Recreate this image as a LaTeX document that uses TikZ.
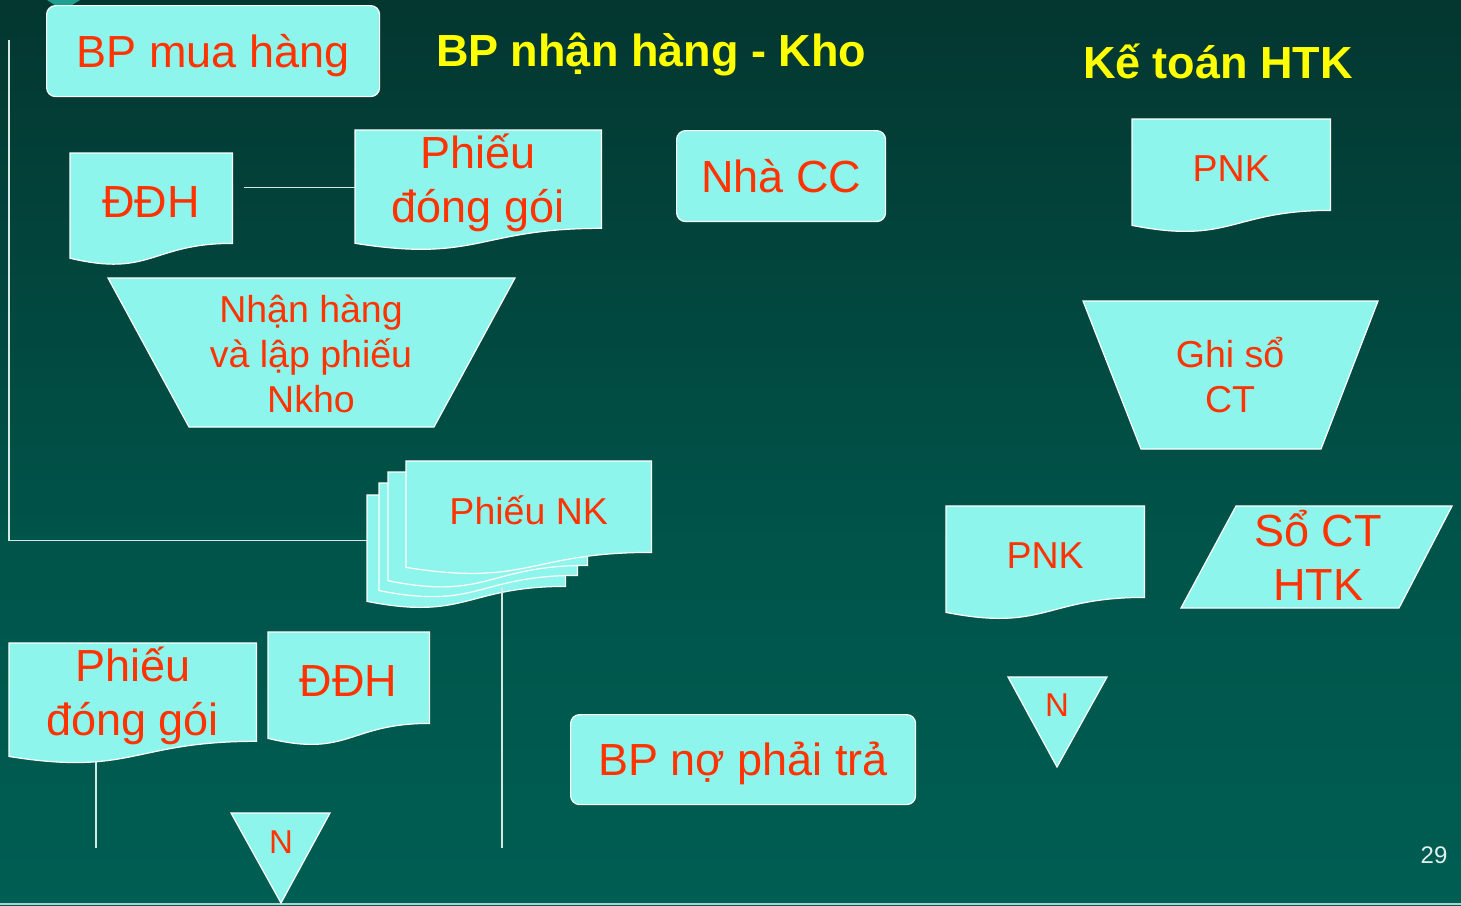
\documentclass[tikz,border=0pt]{standalone}
\usepackage{fontspec}
\setmainfont{Liberation Sans}
\usetikzlibrary{calc}
\definecolor{shapefill}{RGB}{142,245,236}
\definecolor{txtred}{RGB}{255,51,0}
\definecolor{ttlcol}{RGB}{255,255,0}
\definecolor{bgtop}{RGB}{6,30,26}
\definecolor{bgmid}{RGB}{0,84,74}
\definecolor{bgbot}{RGB}{0,106,94}
\definecolor{lncol}{RGB}{215,232,228}
\definecolor{logocol}{RGB}{30,160,144}
\definecolor{numcol}{RGB}{225,240,238}
\pgfdeclareverticalshading{bgshade}{100bp}{color(0bp)=(bgbot); color(45bp)=(bgmid); color(100bp)=(bgtop)}
\pgfdeclarelayer{bgl}\pgfdeclarelayer{lns}\pgfdeclarelayer{shapes}
\pgfsetlayers{bgl,lns,shapes,main}
\newcommand\fbig{\fontsize{45}{54}\selectfont}
\newcommand\fmed{\fontsize{37.5}{45}\selectfont}
\newcommand\fsml{\fontsize{33}{40}\selectfont}
% document shape round a named node (node is shifted 3.5pt down for its text): #1 name, #2 height
\newcommand\docw[2]{\path[shp] ([yshift=3.5pt]#1.north west) -- ([yshift=3.5pt]#1.north east) -- ([yshift=3.5pt]#1.south east)
  .. controls ([yshift=3.5pt]#1.south) and ([yshift=3.5pt-0.38*#2pt]#1.south) .. ([yshift=3.5pt-0.1646*#2pt]#1.south west) -- cycle;}
\begin{document}
\begin{tikzpicture}[x=1pt,y=-1pt,
  shp/.style={fill=shapefill, draw=white, line width=1.2pt},
  rbox/.style={shp, rounded corners=9pt, anchor=north west, inner sep=0, text=txtred, font=\fbig, text height=32.5pt, text depth=0pt},
  docn/.style={anchor=north west, inner sep=0, text=txtred, align=center, yshift=-3.5pt},
  lbl/.style={text=txtred, align=center, inner sep=0},
  conn/.style={draw=lncol, line width=1.3pt},
  ttl/.style={text=ttlcol, font=\fbig\bfseries, inner sep=0}]
\useasboundingbox (0,0) rectangle (1461,905);
\begin{pgfonlayer}{bgl}
\shade[shading=bgshade] (0,0) rectangle (1461,905);
\fill[logocol] (47,0) -- (80,0) -- (72,5) -- (55,5) -- cycle;
\draw[color=lncol!80!teal, line width=2pt] (0,904) -- (1461,904);
\end{pgfonlayer}

% titles
\node[rbox, minimum width=333pt, minimum height=91pt] (mua) at (46,5) {BP mua hàng};
\node[ttl] (tkho) at (651,54) {BP nhận hàng - Kho};
\node[ttl] (tkt) at (1218,61) {Kế toán HTK};

% documents
\node[docn, minimum width=162pt, minimum height=90pt, font=\fbig] (ddh1) at (70,153) {ĐĐH};
\node[docn, minimum width=246pt, minimum height=91pt, font=\fbig] (pdg1) at (355,130) {Phiếu\\đóng gói};
\node[docn, minimum width=198pt, minimum height=91pt, font=\fmed] (pnk1) at (1132,119) {PNK};
\node[docn, minimum width=198pt, minimum height=91pt, font=\fmed] (pnk2) at (946,506) {PNK};
\node[docn, minimum width=247pt, minimum height=92pt, font=\fbig] (pdg2) at (9,643) {Phiếu\\đóng gói};
\node[docn, minimum width=161pt, minimum height=91pt, font=\fbig] (ddh2) at (268,632) {ĐĐH};
\node[docn, minimum width=198pt, minimum height=91pt] (nk4) at (367,495) {};
\node[docn, minimum width=198pt, minimum height=92pt] (nk3) at (379,483) {};
\node[docn, minimum width=199pt, minimum height=93pt] (nk2) at (388,472) {};
\node[docn, minimum width=245pt, minimum height=91pt, font=\fmed] (nk1) at (406,461) {Phiếu NK};

\begin{pgfonlayer}{shapes}
\docw{ddh1}{90}
\docw{pdg1}{91}
\docw{pnk1}{91}
\docw{pnk2}{91}
\docw{pdg2}{92}
\docw{ddh2}{91}
\docw{nk4}{91}
\docw{nk3}{92}
\docw{nk2}{93}
\docw{nk1}{91}
% manual operations
\path[shp] (108,278) -- (515,278) -- (434,427) -- (189,427) -- cycle;
\path[shp] (1083,301) -- (1378,301) -- (1321,449) -- (1141,449) -- cycle;
% data
\path[shp] (1236,506) -- (1452,506) -- (1399,608) -- (1181,608) -- cycle;
% files
\path[shp] (231,813) -- (330,813) -- (281,903) -- cycle;
\path[shp] (1008,677) -- (1107,677) -- (1057,767) -- cycle;
\end{pgfonlayer}

\node[lbl, font=\fmed] (nhan) at (311,354) {Nhận hàng\\và lập phiếu\\Nkho};
\node[lbl, font=\fmed] (ghi) at (1230,375) {Ghi sổ\\CT};
\node[lbl, font=\fbig] (so) at (1318,555) {Sổ CT\\HTK};
\node[lbl, font=\fsml] (n1) at (281,842) {N};
\node[lbl, font=\fsml] (n2) at (1057,705) {N};

\node[rbox, minimum width=209pt, minimum height=91pt] (ncc) at (676,130) {Nhà CC};
\node[rbox, minimum width=345pt, minimum height=90pt] (bpn) at (570,714) {BP nợ phải trả};

\node[text=numcol, font=\fontsize{24}{28}\selectfont, inner sep=0] (pg) at (1434,855) {29};

% connectors
\coordinate (lt) at (9,40);
\draw[conn] (lt) |- ([yshift=3.5pt]nk4.west);
\path ($(ddh1.north east)!0.38!(ddh1.south east)$) coordinate (a1);
\draw[conn] ([xshift=12pt,yshift=3.5pt]a1) -- ([yshift=3.5pt]a1 -| pdg1.west);
\coordinate (nko) at (502,587);
\coordinate (nke) at (502,848);
\draw[conn] (nko) -- (nke);
\coordinate (pde) at (96,848);
\begin{pgfonlayer}{lns}
\draw[conn] (pdg2.south -| pde) -- (pde);
\end{pgfonlayer}
\end{tikzpicture}
\end{document}
